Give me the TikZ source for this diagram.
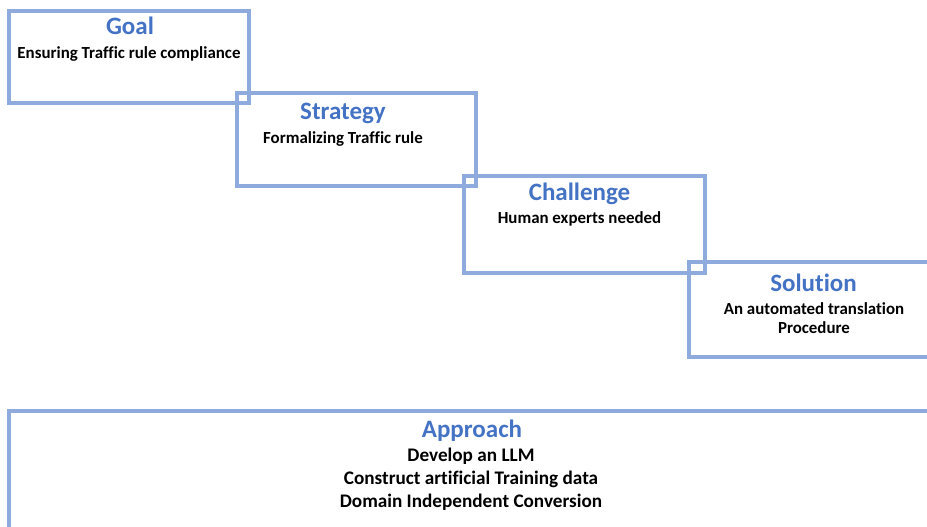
\documentclass[tikz,border=0pt]{standalone}
\usepackage{fontspec}
\setmainfont{Carlito}[Ligatures=NoCommon]
\definecolor{boxblue}{HTML}{8FAADC}
\definecolor{titleblue}{HTML}{4472C4}
\tikzset{
	stagebox/.style={draw=boxblue,line width=4.5pt,rectangle,inner sep=0pt,outer sep=0pt},
	stagetitle/.style={anchor=base,inner sep=0pt,text=titleblue,font=\fontsize{25}{30}\selectfont\bfseries},
	stagetext/.style={anchor=base,inner sep=0pt,font=\fontsize{16.9}{20}\selectfont\bfseries},
	approachtext/.style={stagetext,font=\fontsize{19.2}{23}\selectfont\bfseries}
}
\begin{document}
\begin{tikzpicture}[x=1pt,y=-1pt]
	\useasboundingbox (0,0) rectangle (927,527);
	\clip (0,0) rectangle (927,527);
	% boxes, stepping down to the right
	\node[stagebox,minimum width=240pt,minimum height=92pt] (goal) at (129,57) {};
	\node[stagebox,minimum width=239pt,minimum height=93pt] (strategy) at (356.5,139.5) {};
	\node[stagebox,minimum width=241pt,minimum height=97pt] (challenge) at (584.5,224.5) {};
	\node[stagebox,minimum width=241pt,minimum height=95pt] (solution) at (809.5,309.5) {};
	\node[stagebox,minimum width=924pt,minimum height=120pt] (approach) at (471,471) {};
	% titles
	\node[stagetitle] (goal title) at (130,35) {Goal};
	\node[stagetitle] (strategy title) at (343,119) {Strategy};
	\node[stagetitle] (challenge title) at (579.5,200) {Challenge};
	\node[stagetitle] (solution title) at (813.5,291) {Solution};
	\node[stagetitle] (approach title) at (472,437) {Approach};
	% texts
	\node[stagetext] (goal text) at (129,59) {Ensuring Traffic rule compliance};
	\node[stagetext] (strategy text) at (343,143) {Formalizing Traffic rule};
	\node[stagetext] (challenge text) at (579.5,223) {Human experts needed};
	\foreach \t [count=\i] in {An automated translation,Procedure}
		\node[stagetext] (solution text \i) at (814,{314+19.5*(\i-1)}) {\t};
	\foreach \t [count=\i] in {Develop an LLM,Construct artificial Training data,Domain Independent Conversion}
		\node[approachtext] (approach text \i) at (471,{461+23*(\i-1)}) {\t};
\end{tikzpicture}
\end{document}
